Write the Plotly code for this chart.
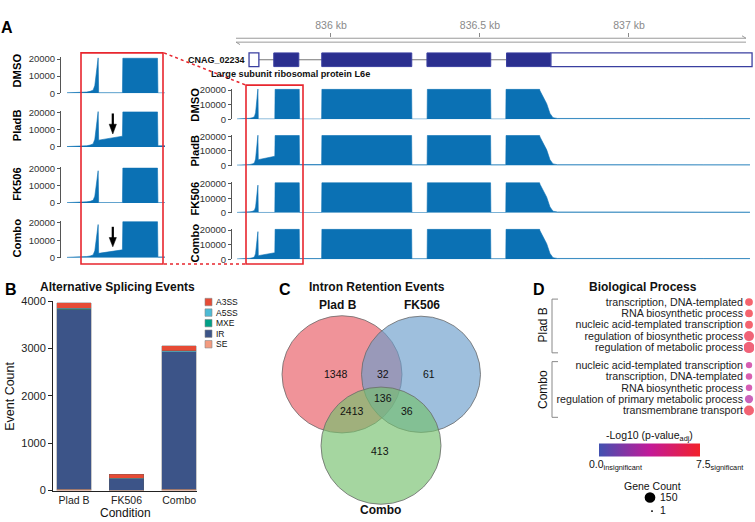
import plotly.graph_objects as go

W, H = 755, 522
FONT = "Liberation Sans, Arial, Helvetica, sans-serif"


def X(p):
    return p / W


def Y(p):
    return 1 - p / H


# ---------------- Panel A: coverage tracks ----------------
conditions = ["DMSO", "PladB", "FK506", "Combo"]
pos_kb = [835.682, 835.715, 835.728, 835.736, 835.743, 835.747, 835.750, 835.7535, 835.7548, 835.7560,
          835.8115, 835.8125, 835.8935, 835.8945, 835.9685, 835.9695, 836.2705, 836.2715,
          836.3225, 836.3235, 836.5355, 836.5365, 836.5865, 836.5875, 836.7000, 836.7013,
          836.7124, 836.7238, 836.7349, 836.7450, 836.7600, 836.9000, 837.0000, 837.1000,
          837.2500, 837.4060]
cov_dmso = [250, 350, 700, 1100, 1800, 4500, 11000, 20700, 20700, 250,
            250, 20500, 20500, 200, 200, 20500, 20500, 200,
            200, 20500, 20500, 200, 200, 20500, 20500, 19500,
            15500, 10700, 4000, 1100, 600, 800, 700, 600, 500, 500]
cov_pladb = [250, 350, 700, 1100, 1800, 4500, 11000, 20700, 20700, 4000,
             6300, 20500, 20500, 700, 700, 20500, 20500, 500,
             500, 20500, 20500, 500, 500, 20500, 20500, 19500,
             15500, 10700, 4000, 1100, 600, 800, 700, 600, 500, 500]
cov_fk506 = [250, 350, 700, 1000, 1600, 4000, 10000, 18900, 18900, 250,
             250, 20500, 20500, 200, 200, 20500, 20500, 200,
             200, 20500, 20500, 200, 200, 20500, 20500, 19500,
             15500, 10700, 4000, 1100, 600, 800, 700, 600, 500, 500]
cov_combo = [250, 350, 700, 1000, 1600, 4000, 10000, 18900, 18900, 2500,
             4500, 20500, 20500, 500, 500, 20500, 20500, 400,
             400, 20500, 20500, 400, 400, 20500, 20500, 19500,
             15500, 10700, 4000, 1100, 600, 800, 700, 600, 500, 500]
cov_tick_vals = [0, 10000, 20000]
cov_tick_text = ["0", "10000", "20000"]
zoom_window_kb = [835.682, 835.911]
full_window_kb = [835.6846, 837.4195]

gene_id = "CNAG_02234"
gene_desc = "Large subunit ribosomal protein L6e"
exon_start_kb = [835.808, 835.969, 836.322, 836.589]
exon_end_kb = [835.892, 836.271, 836.536, 836.738]
utr_start_kb = [835.725, 836.738]
utr_end_kb = [835.758, 837.413]
ruler_tick_kb = [836.0, 836.5, 837.0]
ruler_tick_text = ["836 kb", "836.5 kb", "837 kb"]

# ---------------- Panel B: splicing events ----------------
bar_conditions = ["Plad B", "FK506", "Combo"]
event_types = ["SE", "IR", "MXE", "A5SS", "A3SS"]          # stacking order, bottom -> top
events_se = [30, 10, 30]
events_ir = [3790, 235, 2900]
events_mxe = [8, 3, 5]
events_a5ss = [22, 12, 15]
events_a3ss = [110, 80, 110]
event_colors = {"A3SS": "#E64B35", "A5SS": "#4DBBD5", "MXE": "#00A087",
                "IR": "#3C5488", "SE": "#F39B7F"}
count_ticks = [0, 1000, 2000, 3000, 4000]

# ---------------- Panel C: Venn ----------------
venn_sets = ["Plad B", "FK506", "Combo"]
venn_regions = ["PladB only", "PladB&FK506", "FK506 only", "all", "PladB&Combo", "FK506&Combo", "Combo only"]
venn_counts = [1348, 32, 61, 136, 2413, 36, 413]

# ---------------- Panel D: GO enrichment ----------------
go_groups = ["Plad B", "Combo"]
terms_pladb = ["transcription, DNA-templated", "RNA biosynthetic process",
               "nucleic acid-templated transcription", "regulation of biosynthetic process",
               "regulation of metabolic process"]
terms_combo = ["nucleic acid-templated transcription", "transcription, DNA-templated",
               "RNA biosynthetic process", "regulation of primary metabolic process",
               "transmembrane transport"]
logp_pladb = [7.4, 7.4, 7.3, 6.9, 6.8]
logp_combo = [4.0, 4.1, 3.9, 3.3, 7.1]
count_pladb = [76, 76, 78, 130, 165]
count_combo = [50, 52, 52, 88, 130]
logp_range = [0.0, 7.5]
count_legend = [150, 1]

COV = "#0B71B4"
RED = "#E8262E"

fig = go.Figure()
axes = {}


def axn(kind, n):
    return f"{kind}axis" if n == 1 else f"{kind}axis{n}"


def ref(kind, n):
    return kind if n == 1 else f"{kind}{n}"


left_px = [(89.3, 54.3), (144.3, 109.3), (201.7, 166.7), (257.7, 221.7)]
right_px = [(116.0, 86.0), (163.3, 133.3), (211.7, 181.7), (259.3, 229.3)]
YMAX = 21000
covs = [cov_dmso, cov_pladb, cov_fk506, cov_combo]
tf_cov = dict(family=FONT, size=9.5, color="#333")

for side, (pxs, xdom, xr, axpos) in enumerate([(left_px, (67, 165), zoom_window_kb, 60),
                                               (right_px, (237, 754), full_window_kb, 231)]):
    for i, cov in enumerate(covs):
        n = 1 + i + 4 * side
        zero, top = pxs[i]
        ytop = zero - (zero - top) * YMAX / 20000
        fig.add_trace(go.Scatter(x=pos_kb, y=cov, xaxis=ref("x", n), yaxis=ref("y", n),
                                 mode="lines", fill="tozeroy", fillcolor=COV,
                                 line=dict(color=COV, width=0.6), hoverinfo="skip",
                                 showlegend=False))
        axes[axn("x", n)] = dict(domain=[X(xdom[0]), X(xdom[1])], range=xr, visible=False,
                                 anchor=ref("y", n))
        axes[axn("y", n)] = dict(domain=[Y(zero), Y(ytop)], range=[0, YMAX], anchor="free",
                                 position=X(axpos), showline=True, linecolor="#555", linewidth=1,
                                 ticks="outside", ticklen=3, tickcolor="#555",
                                 tickvals=cov_tick_vals, ticktext=cov_tick_text,
                                 tickfont=tf_cov, showgrid=False, zeroline=False)

# gene model + ruler (axis 9)
GENE_Y = 0.333
fig.add_trace(go.Scatter(x=[utr_end_kb[0], utr_start_kb[1]], y=[GENE_Y, GENE_Y], xaxis="x9",
                         yaxis="y9", mode="lines", line=dict(color="#777", width=1.2),
                         hoverinfo="skip", showlegend=False))
axes["xaxis9"] = dict(domain=[X(237), X(754)], range=full_window_kb, anchor="y9", side="top",
                      showline=False, ticks="outside", ticklen=4, tickcolor="#8a8a8a",
                      tickvals=ruler_tick_kb, ticktext=ruler_tick_text,
                      tickfont=dict(family=FONT, size=10.5, color="#8a8a8a"),
                      showgrid=False, zeroline=False)
axes["yaxis9"] = dict(domain=[Y(66), Y(33)], range=[0, 1], visible=False, anchor="x9")

shapes = []
for s, e in zip(exon_start_kb, exon_end_kb):
    shapes.append(dict(type="rect", xref="x9", yref="y9", x0=s, x1=e, y0=0.121, y1=0.545,
                       fillcolor="#2B2F8F", line=dict(color="#3A3FA0", width=1)))
for s, e in zip(utr_start_kb, utr_end_kb):
    shapes.append(dict(type="rect", xref="x9", yref="y9", x0=s, x1=e, y0=0.121, y1=0.545,
                       fillcolor="white", line=dict(color="#3A3FA0", width=1.3)))


def pline(x0, y0, x1, y1, color, width=1, dash="solid"):
    shapes.append(dict(type="line", xref="paper", yref="paper", x0=X(x0), y0=Y(y0),
                       x1=X(x1), y1=Y(y1), line=dict(color=color, width=width, dash=dash)))


# ruler double line
pline(236, 33, 746, 33, "#9a9a9a")
pline(236, 37, 746, 37, "#9a9a9a")
pline(742, 30.5, 746, 33, "#9a9a9a")
pline(236, 37, 240, 39.5, "#9a9a9a")

# red zoom boxes and connectors
for (x0, y0, x1, y1) in [(81, 48, 163, 264), (246, 81, 303, 264)]:
    shapes.append(dict(type="rect", xref="paper", yref="paper", x0=X(x0), x1=X(x1),
                       y0=Y(y1), y1=Y(y0), line=dict(color=RED, width=1.6)))
pline(164, 48, 246, 81, RED, 1.5, "dot")
pline(164, 264, 246, 264, RED, 1.5, "dot")

# black arrows marking retained introns
for (top, head, tip) in [(110, 121, 131), (226, 237, 246.5)]:
    pline(112.8, top, 112.8, head + 1, "black", 2.2)
    shapes.append(dict(type="path", xref="paper", yref="paper",
                       path=f"M{X(109.2)},{Y(head)} L{X(116.4)},{Y(head)} L{X(112.8)},{Y(tip)} Z",
                       fillcolor="black", line=dict(color="black", width=0.5)))

# ---------------- Panel B traces ----------------
ev_vals = {"SE": events_se, "IR": events_ir, "MXE": events_mxe, "A5SS": events_a5ss,
           "A3SS": events_a3ss}
for et in event_types:
    fig.add_trace(go.Bar(x=bar_conditions, y=ev_vals[et], name=et, width=0.66,
                         marker=dict(color=event_colors[et],
                                     line=dict(color="rgba(90,90,90,0.55)", width=0.6)),
                         xaxis="x10", yaxis="y10", showlegend=False, hoverinfo="skip"))
axes["xaxis10"] = dict(domain=[X(53), X(197)], range=[-0.4, 2.34], anchor="y10",
                       showline=True, linecolor="#222", linewidth=1, ticks="",
                       tickfont=dict(family=FONT, size=10.5, color="#222"),
                       showgrid=False, zeroline=False)
axes["yaxis10"] = dict(domain=[Y(496), Y(302)], range=[0, 4000], anchor="x10",
                       showline=True, linecolor="#222", linewidth=1, ticks="outside",
                       ticklen=4, tickcolor="#222", tickvals=count_ticks,
                       tickfont=dict(family=FONT, size=11, color="#222"),
                       showgrid=False, zeroline=False)

# manual legend for panel B
for k, et in enumerate(["A3SS", "A5SS", "MXE", "IR", "SE"]):
    yc = 303 + k * 10.8
    shapes.append(dict(type="rect", xref="paper", yref="paper", x0=X(205), x1=X(212),
                       y0=Y(yc + 3.8), y1=Y(yc - 3.8), fillcolor=event_colors[et],
                       line=dict(color="#888", width=0.6)))

# ---------------- Panel C shapes ----------------
venn_geom = [(342, 377, 60, "rgba(230,75,85,0.60)"),
             (421, 377, 59.5, "rgba(106,157,203,0.65)"),
             (381, 450, 60, "rgba(117,192,109,0.65)")]
for cx, cy, r, col in venn_geom:
    shapes.append(dict(type="circle", xref="paper", yref="paper", x0=X(cx - r), x1=X(cx + r),
                       y0=Y(cy + r), y1=Y(cy - r), fillcolor=col,
                       line=dict(color="#6a6a6a", width=0.8)))
venn_pos = [(336, 377), (383, 377), (429, 377), (383, 401), (352, 415), (407, 415), (380, 455)]

# ---------------- Panel D traces ----------------
rows = [i for i in range(5)] + [i + 5.55 for i in range(5)]
terms = terms_pladb + terms_combo
logp = logp_pladb + logp_combo
counts = count_pladb + count_combo


def dot_d(c):
    return (2.0 ** 2 + (10.7 ** 2 - 2.0 ** 2) * (c - 1) / 149) ** 0.5


cscale = [[0, "#4151B0"], [0.5, "#C21A99"], [1, "#F2222C"]]
fig.add_trace(go.Scatter(
    x=[0.5] * len(rows), y=rows, xaxis="x11", yaxis="y11", mode="markers",
    marker=dict(size=[dot_d(c) for c in counts], color=logp, colorscale=cscale,
                cmin=logp_range[0], cmax=logp_range[1], line=dict(width=0),
                colorbar=dict(orientation="h", lenmode="pixels", len=101, thickness=13,
                              x=X(649.5), xanchor="center", y=Y(454.5), yanchor="middle",
                              xpad=0, ypad=0, outlinewidth=0, showticklabels=False,
                              ticks="")),
    hoverinfo="skip", showlegend=False))
axes["xaxis11"] = dict(domain=[X(744), X(754)], range=[0, 1], visible=False, anchor="y11")
axes["yaxis11"] = dict(domain=[Y(419.8), Y(297.2)], range=[10.05, -0.5], anchor="x11",
                       tickvals=rows, ticktext=terms, showline=False, ticks="",
                       tickfont=dict(family=FONT, size=10.7, color="#222"),
                       showgrid=False, zeroline=False)

# brackets
for (y0, y1) in [(300, 355), (364, 421)]:
    pline(552, y0, 552, y1, "#888")
    pline(552, y0, 558, y0, "#888")
    pline(552, y1, 558, y1, "#888")

# gene count legend dots
for (cx, cy), c in zip([(650, 503), (652, 517)], count_legend):
    r = dot_d(c) / 2
    shapes.append(dict(type="circle", xref="paper", yref="paper", x0=X(cx - r), x1=X(cx + r),
                       y0=Y(cy + r), y1=Y(cy - r), fillcolor="black", line=dict(width=0)))

# ---------------- annotations ----------------
ann = []


def txt(x, y, text, size=10, bold=False, color="#111", xa="center", ya="middle", angle=0, pad=1):
    ann.append(dict(x=X(x), y=Y(y), xref="paper", yref="paper", text=f"<b>{text}</b>" if bold else text,
                    showarrow=False, xanchor=xa, yanchor=ya, textangle=angle, borderpad=pad,
                    font=dict(family=FONT, size=size, color=color)))


txt(7, 22, "A", 16, True, "black")
txt(11, 290, "B", 16, True, "black")
txt(285, 290, "C", 16, True, "black")
txt(539, 290, "D", 16, True, "black")

left_lab_y = [66, 122, 182, 238]
right_lab_y = [101, 148, 197, 243]
for name, ly, ry in zip(conditions, left_lab_y, right_lab_y):
    txt(17, ly, name, 11.2, True, "black", angle=-90)
    txt(195, ry, name, 11.2, True, "black", angle=-90)

txt(247, 55, gene_id, 9, True, "#111", xa="right")
txt(290, 70, gene_desc, 9.2, True, "#111")

# panel B texts
txt(118, 288, "Alternative Splicing Events", 12, True, "#111")
txt(10, 400, "Event Count", 12.5, False, "#111", angle=-90)
txt(125, 518.5, "Condition", 12, False, "#111", pad=0)
for k, et in enumerate(["A3SS", "A5SS", "MXE", "IR", "SE"]):
    txt(213.5, 303 + k * 10.8, et, 8.5, False, "#111", xa="left")

# panel C texts
txt(377, 288, "Intron Retention Events", 12, True, "#111")
txt(338, 306, venn_sets[0], 12, True, "#111")
txt(422, 306, venn_sets[1], 12, True, "#111")
txt(380, 516, venn_sets[2], 12, True, "#111")
for (px_, py_), c in zip(venn_pos, venn_counts):
    txt(px_, py_, str(c), 10.5, False, "#111")

# panel D texts
txt(643, 288, "Biological Process", 12, True, "#111")
txt(543, 327, go_groups[0], 12, False, "#111", angle=-90)
txt(543, 393, go_groups[1], 12, False, "#111", angle=-90)
txt(649, 440, "-Log10 (p-value<sub>adj</sub>)", 10.5, False, "#111")
txt(587, 470, f"{logp_range[0]:.1f}<sub>insignificant</sub>", 10.5, False, "#111", xa="left")
txt(694, 470, f"{logp_range[1]:.1f}<sub>significant</sub>", 10.5, False, "#111", xa="left")
txt(652, 491, "Gene Count", 10.5, False, "#111")
txt(658, 503, str(count_legend[0]), 10.5, False, "#111", xa="left")
txt(658, 516, str(count_legend[1]), 10.5, False, "#111", xa="left")

fig.update_layout(width=W, height=H, margin=dict(l=0, r=0, t=0, b=0),
                  paper_bgcolor="white", plot_bgcolor="rgba(0,0,0,0)", showlegend=False,
                  barmode="stack", font=dict(family=FONT, size=10, color="#222"),
                  shapes=shapes, annotations=ann, **axes)

fig.write_html("out.html", config={"displayModeBar": False},
               post_script="document.body.style.margin='0px';")
